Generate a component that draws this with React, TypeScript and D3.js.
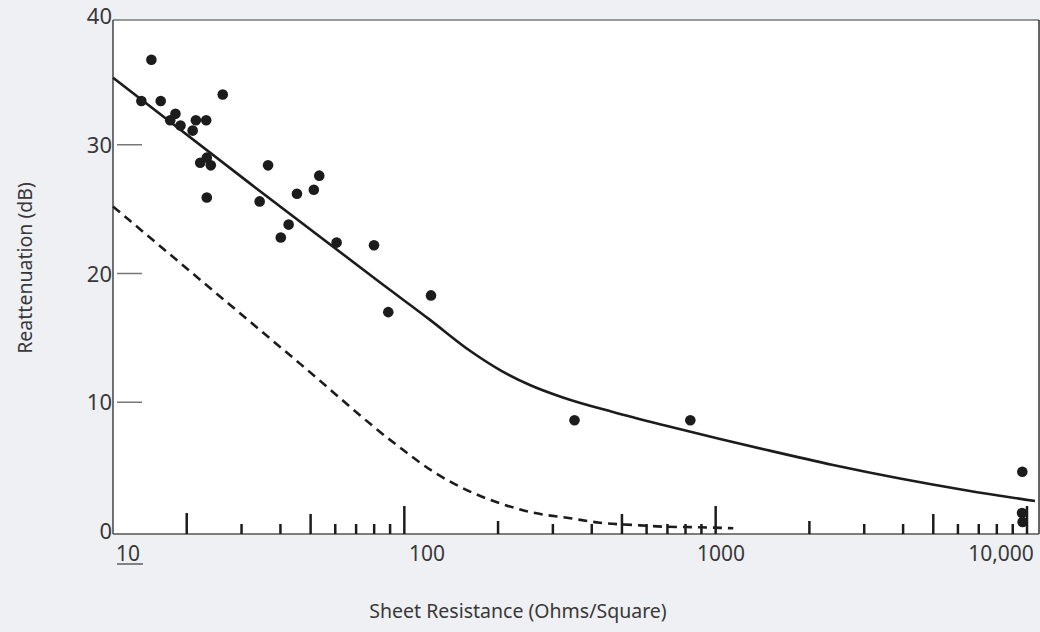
import React from 'react';
import * as d3 from 'd3';

const W = 1040;
const H = 632;

// measured samples: sheet resistance (ohms/square) vs reattenuation (dB)
const pointOhms = [14.3, 15.4, 16.5, 18.4, 17.7, 19.1, 21.4, 23.1, 20.9, 26.1, 23.2, 22.1, 23.9, 23.2, 36.5, 34.3, 45.2, 51.2, 53.3, 42.5, 40.1, 60.6, 79.9, 121.8, 88.8, 352, 829, 9660, 9640, 9680];
const pointDb = [33.4, 36.6, 33.4, 32.4, 31.9, 31.5, 31.9, 31.9, 31.1, 33.9, 29.0, 28.6, 28.4, 25.9, 28.4, 25.6, 26.2, 26.5, 27.6, 23.8, 22.8, 22.4, 22.2, 18.3, 17.0, 8.6, 8.6, 4.6, 1.4, 0.7];

// fitted curve (solid)
const solidOhms = [11.6, 31.9, 83.6, 120.9, 162.5, 203, 253, 323, 468, 678, 1033, 1462, 2382, 3909, 6417, 10610];
const solidDb = [35.2, 27.0, 19.3, 16.4, 14.0, 12.5, 11.34, 10.37, 9.24, 8.23, 7.15, 6.29, 5.13, 4.08, 3.15, 2.33];

// theory curve (dashed)
const dashedOhms = [11.6, 46.2, 94.5, 124, 158.6, 203, 259.6, 341, 425, 544, 696, 891, 1139];
const dashedDb = [25.2, 13.0, 6.68, 4.6, 3.18, 2.15, 1.42, 0.99, 0.64, 0.47, 0.33, 0.29, 0.21];

const xTickValues = [10, 100, 1000, 10000];
const xTickLabels = ['10', '100', '1000', '10,000'];
const yTickValues = [0, 10, 20, 30, 40];

const FONT = '"Noto Sans", sans-serif';
const INK = '#1c1c1c';
const TEXT = '#383838';

export default function App() {
  const left = 113, right = 1039, top = 20, bottom = 534;

  const x = d3.scaleLog().domain([10, 10000]).range([93, 1027]);
  const y = d3.scaleLinear().domain([0, 40]).range([531, 16]);
  // the printed decade labels sit a little off the minor tick marks
  const xLabel = d3.scaleLog().domain(xTickValues).range([128, 427, 721, 1001]);

  const minor = x.copy().domain([8.9, 11700]).ticks().filter((v) => v >= 15 && v <= 10000);
  const tickLen = (v: number) => {
    const m = Math.round(v / Math.pow(10, Math.floor(Math.log10(v) + 1e-9)));
    if (v === 20) return 21;
    if (m === 1) return 28;
    if (m === 5) return 20;
    if (m === 2) return 13;
    return 10;
  };

  const line = d3.line<[number, number]>()
    .x((d) => x(d[0]))
    .y((d) => y(d[1]))
    .curve(d3.curveMonotoneX);

  const solid = line(solidOhms.map((v, i) => [v, solidDb[i]]));
  const dashed = line(dashedOhms.map((v, i) => [v, dashedDb[i]]));

  return (
    <svg width={W} height={H} style={{ position: 'absolute', left: 0, top: 0 }}>
      <rect x={0} y={0} width={W} height={H} fill="#eff0f4" />
      <rect x={left} y={top} width={right - left} height={bottom - top} fill="#fff" />
      <line x1={left} x2={right} y1={top} y2={top} stroke="#777" strokeWidth={1.5} />
      <line x1={right} x2={right} y1={top} y2={bottom} stroke="#333" strokeWidth={1.5} />
      <line x1={left} x2={left} y1={top} y2={bottom} stroke="#444" strokeWidth={1.5} />
      <line x1={left} x2={right} y1={bottom} y2={bottom} stroke="#555" strokeWidth={1.5} />

      {yTickValues.filter((v) => v > 0 && v < 40).map((v) => (
        <line key={v} x1={117} x2={142} y1={y(v)} y2={y(v)} stroke="#777" strokeWidth={1.5} />
      ))}
      {yTickValues.map((v) => (
        <text key={v} x={112} y={y(v) + 8} textAnchor="end" fontFamily={FONT} fontSize={22} fill={TEXT}>{v}</text>
      ))}

      {minor.map((v) => (
        <line key={v} x1={x(v)} x2={x(v)} y1={bottom} y2={bottom - tickLen(v)} stroke={INK} strokeWidth={2.5} />
      ))}

      {xTickValues.map((v, i) => (
        <text key={v} x={xLabel(v)} y={561} textAnchor="middle" fontFamily={FONT} fontSize={21} fill={TEXT}>{xTickLabels[i]}</text>
      ))}
      <line x1={117} x2={143} y1={564} y2={564} stroke={TEXT} strokeWidth={1.2} />

      <path d={dashed ?? ''} fill="none" stroke={INK} strokeWidth={2.6} strokeDasharray="9 6" />
      <path d={solid ?? ''} fill="none" stroke={INK} strokeWidth={2.6} />

      {pointOhms.map((v, i) => (
        <circle key={i} cx={x(v)} cy={y(pointDb[i])} r={5.3} fill={INK} />
      ))}

      <text transform="translate(24,268) rotate(-90)" textAnchor="middle" dominantBaseline="central" fontFamily={FONT} fontSize={19.5} fill={TEXT}>Reattenuation (dB)</text>
      <text x={518} y={618} textAnchor="middle" fontFamily={FONT} fontSize={19.5} fill={TEXT}>Sheet Resistance (Ohms/Square)</text>
    </svg>
  );
}
